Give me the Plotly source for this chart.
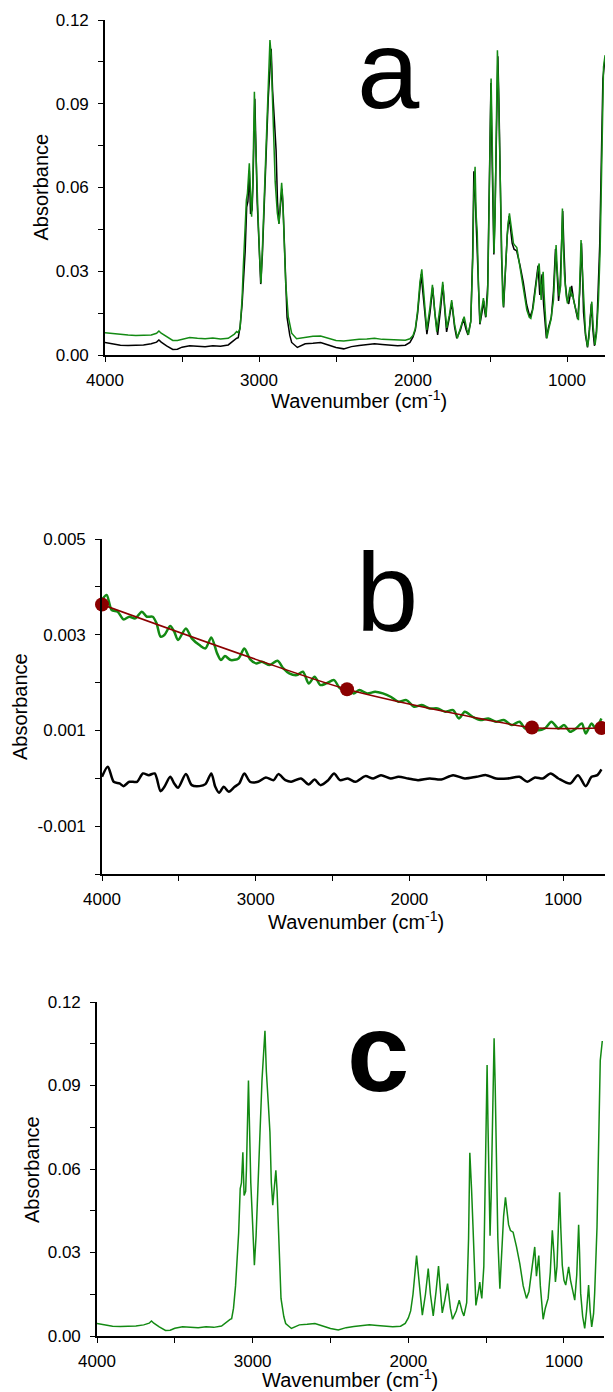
import plotly.graph_objects as go

# ---------------- data ----------------
# Panel a, green: original spectrum
wn_a = [4000, 3950, 3900, 3850, 3800, 3750, 3700, 3665, 3650, 3635,
        3600, 3560, 3530, 3500, 3450, 3400, 3350, 3300, 3250, 3200,
        3160, 3145, 3135, 3123, 3110, 3102, 3094, 3082, 3075, 3063,
        3055, 3048, 3040, 3030, 3024, 3015, 3005, 2995, 2987, 2978,
        2965, 2950, 2940, 2929, 2922, 2915, 2907, 2895, 2881, 2870,
        2860, 2853, 2846, 2838, 2827, 2810, 2788, 2756, 2700, 2650,
        2600, 2550, 2500, 2450, 2400, 2350, 2300, 2250, 2200, 2150,
        2100, 2050, 2020, 2000, 1985, 1970, 1955, 1943, 1930, 1911,
        1890, 1874, 1860, 1846, 1825, 1807, 1795, 1781, 1765, 1749,
        1730, 1712, 1690, 1668, 1650, 1640, 1625, 1612, 1605, 1597,
        1590, 1583, 1575, 1565, 1555, 1543, 1535, 1526, 1515, 1505,
        1500, 1493, 1487, 1480, 1474, 1467, 1460, 1452, 1445, 1437,
        1428, 1418, 1413, 1405, 1396, 1385, 1374, 1362, 1348, 1335,
        1326, 1310, 1294, 1278, 1261, 1245, 1235, 1220, 1207, 1190,
        1181, 1174, 1168, 1160, 1155, 1147, 1138, 1131, 1118, 1105,
        1088, 1078, 1071, 1063, 1051, 1041, 1035, 1030, 1024, 1017,
        1005, 997, 988, 980, 972, 965, 955, 947, 935, 926,
        918, 909, 902, 893, 880, 867, 858, 850, 839, 830,
        818, 808, 796, 785, 774, 763, 753]
abs_a_green = [0.0080, 0.0077, 0.0073, 0.0072, 0.0070, 0.0071, 0.0072, 0.0078, 0.0086, 0.0078,
               0.0066, 0.0052, 0.0052, 0.0057, 0.0063, 0.0060, 0.0058, 0.0061, 0.0057, 0.0060,
               0.0075, 0.0084, 0.0080, 0.0095, 0.0200, 0.0315, 0.0436, 0.0555, 0.0580, 0.0687,
               0.0580, 0.0495, 0.0620, 0.0943, 0.0800, 0.0600, 0.0480, 0.0340, 0.0257, 0.0380,
               0.0580, 0.0750, 0.0950, 0.1128, 0.1080, 0.0950, 0.0794, 0.0620, 0.0508, 0.0470,
               0.0560, 0.0617, 0.0560, 0.0450, 0.0260, 0.0137, 0.0078, 0.0058, 0.0064, 0.0067,
               0.0068, 0.0060, 0.0052, 0.0050, 0.0054, 0.0056, 0.0057, 0.0060, 0.0056, 0.0055,
               0.0052, 0.0053, 0.0058, 0.0070, 0.0095, 0.0160, 0.0260, 0.0307, 0.0220, 0.0090,
               0.0170, 0.0251, 0.0160, 0.0084, 0.0170, 0.0262, 0.0180, 0.0097, 0.0140, 0.0197,
               0.0110, 0.0060, 0.0100, 0.0137, 0.0090, 0.0072, 0.0120, 0.0350, 0.0580, 0.0674,
               0.0500, 0.0440, 0.0250, 0.0114, 0.0160, 0.0204, 0.0170, 0.0137, 0.0220, 0.0600,
               0.0758, 0.0990, 0.0800, 0.0550, 0.0365, 0.0500, 0.0750, 0.1092, 0.0950, 0.0700,
               0.0400, 0.0200, 0.0173, 0.0250, 0.0374, 0.0460, 0.0507, 0.0460, 0.0400, 0.0390,
               0.0385, 0.0330, 0.0269, 0.0210, 0.0161, 0.0135, 0.0131, 0.0170, 0.0233, 0.0300,
               0.0328, 0.0260, 0.0197, 0.0270, 0.0298, 0.0200, 0.0100, 0.0060, 0.0095, 0.0125,
               0.0197, 0.0330, 0.0394, 0.0300, 0.0211, 0.0250, 0.0400, 0.0525, 0.0400, 0.0290,
               0.0210, 0.0185, 0.0220, 0.0244, 0.0210, 0.0220, 0.0190, 0.0173, 0.0140, 0.0125,
               0.0250, 0.0412, 0.0320, 0.0197, 0.0080, 0.0030, 0.0060, 0.0125, 0.0191, 0.0100,
               0.0036, 0.0080, 0.0197, 0.0376, 0.0746, 0.1032, 0.1074]

# Baseline-corrected spectrum (black in panel a, green in panel c)
wn_c = [4000, 3950, 3900, 3850, 3800, 3750, 3700, 3665, 3650, 3635,
        3600, 3560, 3530, 3500, 3450, 3400, 3350, 3300, 3250, 3200,
        3165, 3145, 3135, 3123, 3110, 3100, 3090, 3080, 3072, 3063,
        3055, 3045, 3040, 3027, 3020, 3012, 3000, 2989, 2978, 2965,
        2950, 2940, 2921, 2912, 2900, 2889, 2880, 2871, 2860, 2851,
        2843, 2834, 2818, 2800, 2788, 2751, 2700, 2650, 2600, 2550,
        2500, 2450, 2400, 2350, 2300, 2250, 2200, 2150, 2100, 2050,
        2020, 2000, 1985, 1970, 1958, 1947, 1930, 1910, 1890, 1872,
        1858, 1840, 1822, 1806, 1795, 1782, 1765, 1748, 1730, 1716,
        1692, 1673, 1655, 1643, 1625, 1613, 1605, 1598, 1594, 1585,
        1575, 1566, 1553, 1541, 1535, 1528, 1515, 1506, 1502, 1494,
        1488, 1481, 1475, 1468, 1460, 1449, 1442, 1434, 1425, 1412,
        1400, 1388, 1376, 1365, 1356, 1344, 1327, 1305, 1284, 1262,
        1241, 1225, 1210, 1195, 1188, 1177, 1170, 1162, 1152, 1142,
        1134, 1120, 1102, 1088, 1075, 1065, 1055, 1045, 1035, 1028,
        1020, 1011, 1000, 989, 978, 970, 958, 946, 931, 918,
        906, 900, 893, 880, 867, 855, 842, 832, 822, 810,
        803, 788, 778, 767, 754]
abs_c = [0.0045, 0.0040, 0.0035, 0.0034, 0.0034, 0.0036, 0.0040, 0.0046, 0.0054, 0.0046,
         0.0033, 0.0020, 0.0021, 0.0028, 0.0033, 0.0031, 0.0030, 0.0033, 0.0031, 0.0036,
         0.0052, 0.0060, 0.0062, 0.0100, 0.0180, 0.0280, 0.0370, 0.0530, 0.0550, 0.0660,
         0.0505, 0.0520, 0.0600, 0.0918, 0.0750, 0.0550, 0.0400, 0.0254, 0.0360, 0.0550,
         0.0730, 0.0920, 0.1097, 0.0950, 0.0840, 0.0732, 0.0550, 0.0470, 0.0540, 0.0595,
         0.0520, 0.0374, 0.0135, 0.0070, 0.0045, 0.0027, 0.0040, 0.0042, 0.0045, 0.0036,
         0.0027, 0.0022, 0.0030, 0.0034, 0.0037, 0.0040, 0.0038, 0.0035, 0.0033, 0.0035,
         0.0045, 0.0065, 0.0090, 0.0150, 0.0240, 0.0289, 0.0190, 0.0075, 0.0150, 0.0242,
         0.0150, 0.0072, 0.0160, 0.0251, 0.0170, 0.0083, 0.0130, 0.0188, 0.0100, 0.0060,
         0.0090, 0.0129, 0.0090, 0.0072, 0.0120, 0.0350, 0.0658, 0.0600, 0.0530, 0.0400,
         0.0200, 0.0110, 0.0150, 0.0194, 0.0160, 0.0135, 0.0250, 0.0600, 0.0755, 0.0974,
         0.0750, 0.0450, 0.0360, 0.0500, 0.0800, 0.1070, 0.0900, 0.0630, 0.0350, 0.0170,
         0.0300, 0.0430, 0.0498, 0.0450, 0.0400, 0.0379, 0.0373, 0.0320, 0.0260, 0.0180,
         0.0135, 0.0160, 0.0230, 0.0300, 0.0320, 0.0215, 0.0260, 0.0289, 0.0180, 0.0090,
         0.0060, 0.0100, 0.0135, 0.0230, 0.0380, 0.0300, 0.0194, 0.0250, 0.0400, 0.0516,
         0.0380, 0.0254, 0.0200, 0.0183, 0.0220, 0.0248, 0.0200, 0.0170, 0.0129, 0.0220,
         0.0400, 0.0300, 0.0154, 0.0070, 0.0027, 0.0090, 0.0183, 0.0090, 0.0033, 0.0080,
         0.0154, 0.0390, 0.0720, 0.0990, 0.1060]

# Panel b, green: difference spectrum (baseline)
wn_b_green = [4000, 3970, 3937, 3898, 3860, 3822, 3784, 3741, 3708, 3670,
              3645, 3619, 3594, 3556, 3530, 3505, 3454, 3416, 3366, 3327,
              3289, 3251, 3226, 3200, 3162, 3112, 3074, 3036, 2998, 2959,
              2909, 2858, 2820, 2782, 2731, 2693, 2655, 2617, 2579, 2541,
              2490, 2452, 2406, 2363, 2325, 2274, 2223, 2173, 2122, 2071,
              2020, 1970, 1919, 1868, 1817, 1767, 1716, 1678, 1640, 1589,
              1538, 1487, 1437, 1386, 1335, 1284, 1246, 1208, 1170, 1119,
              1076, 1031, 993, 954, 916, 878, 853, 815, 789, 751]
abs_b_green = [0.003725, 0.003829, 0.003516, 0.003481, 0.003320, 0.003376, 0.003341, 0.003481, 0.003376, 0.003376,
               0.003237, 0.002958, 0.002993, 0.003181, 0.003063, 0.002888, 0.003132, 0.002923, 0.002784, 0.002714,
               0.002944, 0.002610, 0.002470, 0.002554, 0.002470, 0.002505, 0.002714, 0.002484, 0.002401, 0.002435,
               0.002366, 0.002456, 0.002296, 0.002192, 0.002157, 0.002226, 0.001982, 0.002122, 0.001948, 0.001982,
               0.002052, 0.001878, 0.001878, 0.001773, 0.001843, 0.001773, 0.001808, 0.001773, 0.001704, 0.001599,
               0.001634, 0.001495, 0.001529, 0.001460, 0.001460, 0.001390, 0.001425, 0.001251, 0.001390, 0.001286,
               0.001216, 0.001251, 0.001181, 0.001216, 0.001111, 0.001181, 0.001042, 0.001111, 0.001007, 0.001042,
               0.001181, 0.001042, 0.001111, 0.000972, 0.001042, 0.001146, 0.000937, 0.001146, 0.001042, 0.001251]

# Panel b, black: residual after baseline subtraction
wn_b_black = [4000, 3962, 3924, 3886, 3860, 3822, 3772, 3734, 3695, 3657,
              3619, 3594, 3556, 3530, 3505, 3454, 3416, 3366, 3327, 3289,
              3263, 3238, 3208, 3175, 3137, 3107, 3074, 3036, 2985, 2934,
              2883, 2853, 2807, 2769, 2706, 2655, 2617, 2579, 2528, 2490,
              2452, 2401, 2351, 2287, 2236, 2185, 2122, 2071, 2008, 1944,
              1868, 1792, 1716, 1640, 1564, 1500, 1437, 1361, 1284, 1233,
              1183, 1132, 1081, 1031, 954, 903, 853, 815, 777, 751]
abs_b_black = [0.000031, 0.000240, -0.000073, -0.000108, -0.000164, -0.000073, -0.000073, 0.000101, 0.000066, 0.000101,
               -0.000269, -0.000178, 0.000031, -0.000108, -0.000199, 0.000087, -0.000143, -0.000164, -0.000122, 0.000101,
               -0.000178, -0.000303, -0.000178, -0.000282, -0.000178, -0.000108, 0.000101, -0.000073, -0.000073, 0.000017,
               -0.000039, 0.000087, -0.000039, -0.000073, -0.000004, -0.000129, -0.000025, -0.000143, -0.000039, 0.000101,
               -0.000039, -0.000004, -0.000073, 0.000045, -0.000004, 0.000066, -0.000004, 0.000031, -0.000004, -0.000039,
               -0.000004, -0.000025, 0.000066, -0.000004, 0.000031, 0.000066, -0.000004, -0.000004, 0.000031, -0.000073,
               0.000017, -0.000004, 0.000101, -0.000004, -0.000108, 0.000066, -0.000164, 0.000031, 0.000066, 0.000184]

# Panel b, red: baseline anchor points
wn_pts = [4000, 2406, 1203, 751]
abs_pts = [0.00363, 0.00186, 0.00106, 0.00105]

# tick labels
ytick_ac = [0.00, 0.03, 0.06, 0.09, 0.12]
ytick_ac_text = ["0.00", "0.03", "0.06", "0.09", "0.12"]
ytick_b = [-0.001, 0.001, 0.003, 0.005]
ytick_b_text = ["-0.001", "0.001", "0.003", "0.005"]

# ---------------- styling / layout ----------------
W, H = 613, 1392
OFF = 8  # the page body has an 8 px margin; positions below are page pixels
GREEN = "#138a13"
RED = "#8b0000"
FONT = "Liberation Sans, Arial, sans-serif"


def fx(p):
    return (p - OFF) / W


def fy(p):
    return 1 - (p - OFF) / H


fig = go.Figure()

# panel a
fig.add_trace(go.Scatter(x=wn_c, y=abs_c, mode="lines", line=dict(color="black", width=1.5),
                         xaxis="x", yaxis="y", showlegend=False, hoverinfo="skip"))
fig.add_trace(go.Scatter(x=wn_a, y=abs_a_green, mode="lines", line=dict(color=GREEN, width=1.5),
                         xaxis="x", yaxis="y", showlegend=False))
# panel b
fig.add_trace(go.Scatter(x=wn_b_black, y=abs_b_black, mode="lines",
                         line=dict(color="black", width=2.5, shape="spline", smoothing=0.8),
                         xaxis="x2", yaxis="y2", showlegend=False))
fig.add_trace(go.Scatter(x=wn_b_green, y=abs_b_green, mode="lines",
                         line=dict(color=GREEN, width=2.5, shape="spline", smoothing=0.8),
                         xaxis="x2", yaxis="y2", showlegend=False))
fig.add_trace(go.Scatter(x=wn_pts, y=abs_pts, mode="lines+markers",
                         line=dict(color=RED, width=1.6, shape="spline", smoothing=0.6),
                         marker=dict(color=RED, size=14),
                         xaxis="x2", yaxis="y2", showlegend=False, cliponaxis=False))
# panel c
fig.add_trace(go.Scatter(x=wn_c, y=abs_c, mode="lines", line=dict(color=GREEN, width=1.5),
                         xaxis="x3", yaxis="y3", showlegend=False))

tickfont = dict(family=FONT, size=17, color="black")


def xaxis(domain, rng, anchor):
    return dict(domain=domain, range=rng, anchor=anchor, automargin=False, showline=True,
                linecolor="black", linewidth=2, ticks="outside", ticklen=5, tickwidth=1,
                tickcolor="black", tick0=0, dtick=1000, tickfont=tickfont, showgrid=False,
                zeroline=False, ticklabelstandoff=4,
                minor=dict(dtick=500, tick0=0, ticks="outside", ticklen=5, tickwidth=1,
                           tickcolor="black", showgrid=False))


def yaxis(domain, rng, anchor, vals, text, minor_vals):
    return dict(domain=domain, range=rng, anchor=anchor, automargin=False, showline=True,
                linecolor="black", linewidth=1.6, ticks="outside", ticklen=5, tickwidth=1,
                tickcolor="black", tickvals=vals, ticktext=text, tickfont=tickfont,
                showgrid=False, zeroline=False, ticklabelstandoff=6,
                minor=dict(tickvals=minor_vals, ticks="outside", ticklen=5, tickwidth=1,
                           tickcolor="black", showgrid=False))


layout = dict(
    width=W, height=H, margin=dict(l=0, r=0, t=0, b=0, pad=0, autoexpand=False),
    paper_bgcolor="white", plot_bgcolor="white", showlegend=False,
    xaxis=xaxis([fx(105), fx(612)], [4000, 708], "y"),
    yaxis=yaxis([fy(355), fy(20)], [0, 0.12], "x", ytick_ac, ytick_ac_text,
                [0.015, 0.045, 0.075, 0.105]),
    xaxis2=xaxis([fx(102), fx(610)], [4000, 695], "y2"),
    yaxis2=yaxis([fy(874), fy(539)], [-0.002, 0.005], "x2", ytick_b, ytick_b_text,
                 [-0.002, 0.0, 0.002, 0.004]),
    xaxis3=xaxis([fx(97), fx(604)], [4000, 743], "y3"),
    yaxis3=yaxis([fy(1336), fy(1002)], [0, 0.12], "x3", ytick_ac, ytick_ac_text,
                 [0.015, 0.045, 0.075, 0.105]),
)
fig.update_layout(**layout)

titlefont = dict(family=FONT, size=20, color="black")
xtitle = "Wavenumber (cm<sup>-1</sup>)"
ann = []
# y titles
for xc, yc in [(41, 187.5), (19.5, 706.5), (32, 1169)]:
    ann.append(dict(text="Absorbance", x=fx(xc), y=fy(yc), xref="paper", yref="paper",
                    textangle=-90, showarrow=False, font=titlefont,
                    xanchor="center", yanchor="middle"))
# x titles
for xc, yc in [(358.5, 400), (356, 921), (350.5, 1378)]:
    ann.append(dict(text=xtitle, x=fx(xc), y=fy(yc), xref="paper", yref="paper",
                    showarrow=False, font=titlefont, xanchor="center", yanchor="middle"))
# panel letters
letterfont = dict(family=FONT, size=112, color="black")
for txt, xc, yc in [("a", 388, 70), ("b", 387, 592), ("<b>c</b>", 378, 1052)]:
    ann.append(dict(text=txt, x=fx(xc), y=fy(yc), xref="paper", yref="paper",
                    showarrow=False, font=letterfont, xanchor="center", yanchor="middle"))
fig.update_layout(annotations=ann)

fig.write_html("out.html")
